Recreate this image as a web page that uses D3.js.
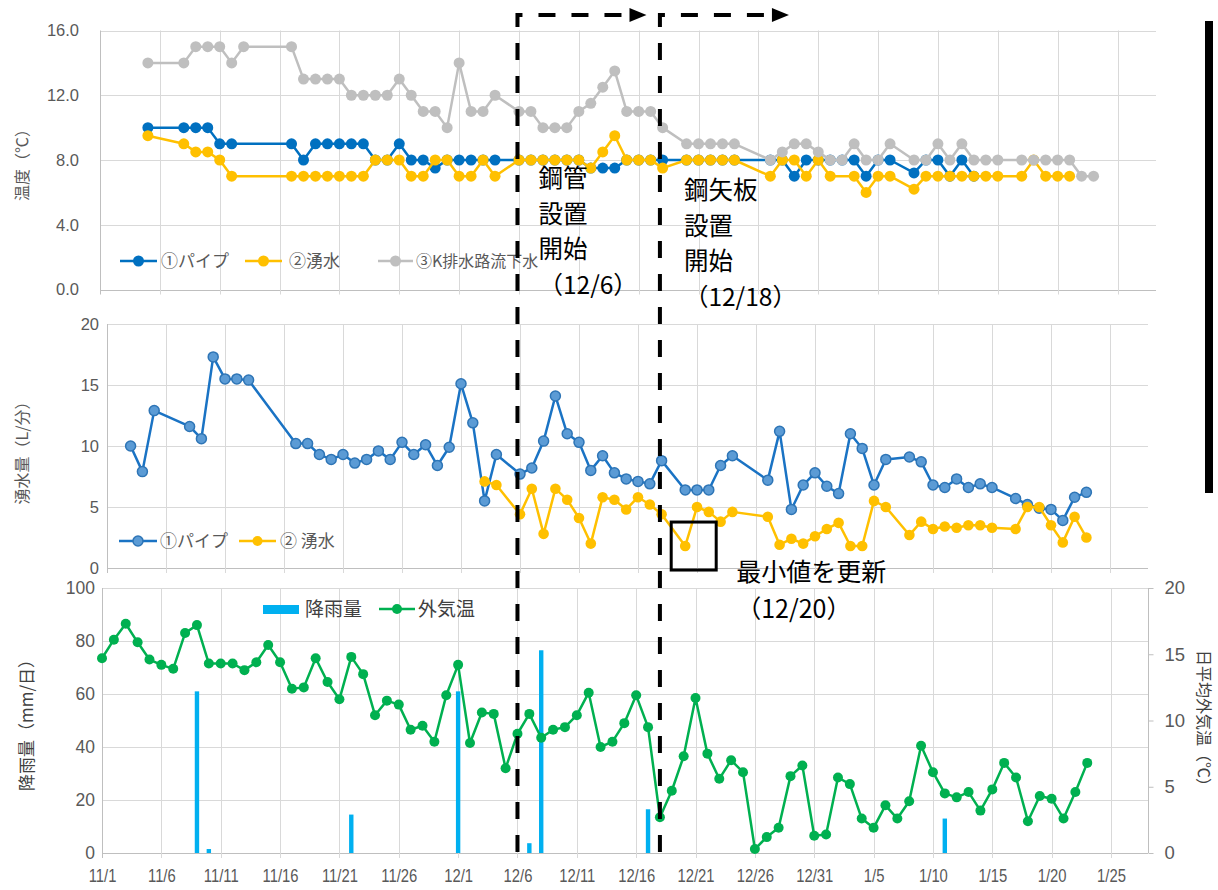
<!DOCTYPE html>
<html lang="ja">
<head>
<meta charset="utf-8">
<title>湧水温度・湧水量・気象の推移</title>
<script src="https://cdn.jsdelivr.net/npm/d3@7/dist/d3.min.js"></script>
<style>
  html, body { margin: 0; background: #fff; }
  svg { display: block; }
  text { font-family: "Noto Sans CJK JP", "Noto Sans", sans-serif; }
  .tick text { font-family: "Liberation Sans", Arial, sans-serif; }
</style>
</head>
<body>
<svg id="chart" width="1218" height="890"></svg>
<script>
// ---------------- data ----------------
// water temperature (°C), measured days
const tempDates = ["11/5","11/8","11/9","11/10","11/11","11/12","11/13",
  "11/17","11/18","11/19","11/20","11/21","11/22","11/23","11/24","11/25","11/26","11/27","11/28","11/29","11/30","12/1","12/2","12/3","12/4",
  "12/6","12/7","12/8","12/9","12/10","12/11","12/12","12/13","12/14","12/15","12/16","12/17","12/18",
  "12/20","12/21","12/22","12/23","12/24",
  "12/27","12/28","12/29","12/30","12/31","1/1","1/2","1/3","1/4","1/5","1/6",
  "1/8","1/9","1/10","1/11","1/12","1/13","1/14","1/15",
  "1/17","1/18","1/19","1/20","1/21","1/22","1/23"];
const pipeTemp = [10,10,10,10,9,9,null,
  9,8,9,9,9,9,9,8,8,9,8,8,7.5,8,8,8,8,8,
  8,8,8,8,8,8,7.5,7.5,7.5,8,8,8,8,
  8,8,8,8,8,
  8,8,7,8,8,8,8,8,7,8,8,
  7.2,8,8,7,8,7,null,null,
  null,null,null,null,null,null,null];
const springTemp = [9.5,9,8.5,8.5,8,7,null,
  7,7,7,7,7,7,7,8,8,8,7,7,8,8,7,7,8,7,
  8,8,8,8,8,8,7.5,8.5,9.5,8,8,8,7.5,
  8,8,8,8,8,
  7,8,8,7,8,7,null,7,6,7,7,
  6.2,7,7,7,7,7,7,7,
  7,8,7,7,7,null,null];
const drainTemp = [14,14,15,15,15,14,15,
  15,13,13,13,13,12,12,12,12,13,12,11,11,10,14,11,11,12,
  11,11,10,10,10,11,11.5,12.5,13.5,11,11,11,10,
  9,9,9,9,9,
  8,8.5,9,9,8.5,8,8,9,8,8,9,
  8,8,9,8,9,8,8,8,
  8,8,8,8,8,7,7];

// spring discharge (L/min)
const flowDates = ["11/3","11/4"].concat(tempDates);
const pipeFlow = [10.0,7.9,12.9,11.6,10.6,17.3,15.5,15.5,15.4,
  10.2,10.2,9.3,8.9,9.3,8.6,8.9,9.6,8.9,10.3,9.3,10.1,8.4,9.9,15.1,11.9,5.5,9.3,
  7.7,8.2,10.4,14.1,11.0,10.3,8.0,9.2,7.8,7.3,7.1,6.9,8.8,
  6.4,6.4,6.4,8.4,9.2,
  7.2,11.2,4.8,6.8,7.8,6.7,6.1,11.0,9.8,6.8,8.9,
  9.1,8.7,6.8,6.6,7.3,6.6,6.9,6.6,
  5.7,5.2,4.9,4.8,3.9,5.8,6.2];
const springFlow = [null,null,null,null,null,null,null,null,null,
  null,null,null,null,null,null,null,null,null,null,null,null,null,null,null,null,7.1,6.8,
  4.4,6.5,2.8,6.5,5.6,4.1,2.0,5.8,5.6,4.8,5.8,5.2,4.4,
  1.8,5.0,4.6,3.8,4.6,
  4.2,1.9,2.4,2.0,2.6,3.2,3.7,1.8,1.8,5.5,5.0,
  2.7,3.8,3.2,3.4,3.3,3.5,3.5,3.3,
  3.2,5.0,5.0,3.5,2.1,4.2,2.5];

// weather: daily mean air temperature (°C) from 11/1 to 1/23, and rainfall (mm/day)
const airStart = "11/1", airEnd = "1/23";
const airTemp = [14.7,16.1,17.3,15.9,14.6,14.2,13.9,16.6,17.2,14.3,
  14.3,14.3,13.8,14.4,15.7,14.4,12.4,12.5,14.7,12.9,
  11.6,14.8,13.5,10.4,11.5,11.2,9.3,9.6,8.4,11.9,
  14.2,8.3,10.6,10.5,6.4,9.0,10.5,8.7,9.3,9.5,
  10.4,12.1,8.0,8.4,9.8,11.9,9.5,2.7,4.7,7.3,
  11.7,7.5,5.6,7.0,6.1,0.3,1.2,1.9,5.8,6.6,
  1.3,1.4,5.7,5.2,2.6,1.9,3.6,2.6,3.9,8.1,
  6.1,4.5,4.2,4.6,3.2,4.8,6.8,5.7,2.4,4.3,
  4.1,2.6,4.6,6.8];
const rainDates = ["11/9","11/10","11/22","12/1","12/7","12/8","12/17","1/11"];
const rainfall = [61,1.5,14.5,61,3.7,76.5,16.5,13];

// axis ticks
const tempTicks = [0,4,8,12,16];
const flowTicks = [0,5,10,15,20];
const rainTicks = [0,20,40,60,80,100];
const airTicks = [0,5,10,15,20];
const firstTick = "11/1", lastTick = "1/25", tickStepDays = 5;

// events
const pipeStart = "12/6", sheetPileStart = "12/18", minFlowDate = "12/20";

// ---------------- helpers ----------------
const md = s => { const [m, d] = s.split("/").map(Number); return new Date(m >= 11 ? 2021 : 2022, m - 1, d); };
const pairs = (dates, values) => dates.map((s, i) => ({ date: md(s), value: values[i] })).filter(p => p.value != null);
const fmtMD = d3.timeFormat("%-m/%-d");
const xTicks = d3.timeDay.range(md(firstTick), d3.timeDay.offset(md(lastTick), 1), tickStepDays);

const C = {
  grid: "#d9d9d9", axis: "#bfbfbf", label: "#595959",
  blue: "#0070c0", blueFill: "#5b9bd5", blueEdge: "#2e75b6",
  yellow: "#ffc000", gray: "#bfbfbf", green: "#00b050", rain: "#00b0f0"
};

const svg = d3.select("#chart");
const crisp = v => Math.round(v) + 0.5;

function frame(p) {
  const g = svg.append("g");
  g.append("g").selectAll("line").data(p.yTicks).join("line")
    .attr("x1", p.left).attr("x2", p.right)
    .attr("y1", d => crisp(p.y(d))).attr("y2", d => crisp(p.y(d)))
    .attr("stroke", d => d === 0 ? C.axis : C.grid).attr("stroke-width", 1);
  g.append("g").selectAll("line").data(xTicks).join("line")
    .attr("x1", d => crisp(p.x(d))).attr("x2", d => crisp(p.x(d)))
    .attr("y1", p.top).attr("y2", p.bottom + 5)
    .attr("stroke", (d, i) => i === 0 ? C.axis : C.grid).attr("stroke-width", 1);
  const ax = g.append("g").attr("transform", `translate(${p.labelX},0)`)
    .call(d3.axisLeft(p.y).tickValues(p.yTicks).tickFormat(p.yFormat).tickSize(0).tickPadding(0));
  ax.attr("font-family", null).attr("font-size", null);
  ax.select(".domain").remove();
  ax.selectAll("text").attr("fill", C.label).style("font-size", p.fontSize + "px");
  return g;
}

function lineSeries(g, x, y, data, color, width) {
  g.append("path").datum(data)
    .attr("fill", "none").attr("stroke", color).attr("stroke-width", width)
    .attr("stroke-linejoin", "round")
    .attr("d", d3.line().x(d => x(d.date)).y(d => y(d.value)));
}
function dots(g, x, y, data, r, fill, stroke, sw) {
  g.append("g").selectAll("circle").data(data).join("circle")
    .attr("cx", d => x(d.date)).attr("cy", d => y(d.value)).attr("r", r)
    .attr("fill", fill).attr("stroke", stroke || "none").attr("stroke-width", sw || 0);
}
function legendItem(g, x1, len, y, color, r, fill, stroke, label, tx, size, textColor) {
  g.append("line").attr("x1", x1).attr("x2", x1 + len).attr("y1", y).attr("y2", y)
    .attr("stroke", color).attr("stroke-width", 2.5);
  g.append("circle").attr("cx", x1 + len / 2).attr("cy", y).attr("r", r)
    .attr("fill", fill).attr("stroke", stroke || "none").attr("stroke-width", stroke ? 1.5 : 0);
  g.append("text").attr("x", tx).attr("y", y).attr("dy", "0.36em")
    .attr("fill", textColor || C.label).style("font-size", size + "px").text(label);
}
function axisTitle(text, x, y, angle, size, color) {
  svg.append("text").attr("transform", `translate(${x},${y}) rotate(${angle})`)
    .attr("text-anchor", "middle").attr("dy", "0.36em")
    .attr("fill", color).style("font-size", size + "px").text(text);
}

// ---------------- panel 1: water temperature ----------------
const tp = { left: 100, right: 1156, top: 30.5, bottom: 289.5 };
tp.x = d3.scaleTime([md(firstTick), md(lastTick)], [tp.left, 1117.5]);
tp.y = d3.scaleLinear([0, 16], [tp.bottom, tp.top]);
const g1 = frame({ ...tp, yTicks: tempTicks, yFormat: d3.format(".1f"), labelX: 79, fontSize: 16.5 });
const pipeT = pairs(tempDates, pipeTemp), springT = pairs(tempDates, springTemp), drainT = pairs(tempDates, drainTemp);
lineSeries(g1, tp.x, tp.y, pipeT, C.blue, 2.5);   dots(g1, tp.x, tp.y, pipeT, 5.5, C.blue);
lineSeries(g1, tp.x, tp.y, springT, C.yellow, 2.5); dots(g1, tp.x, tp.y, springT, 5.5, C.yellow);
lineSeries(g1, tp.x, tp.y, drainT, C.gray, 2.5);  dots(g1, tp.x, tp.y, drainT, 5.5, C.gray);
legendItem(g1, 120, 37, 261, C.blue, 5.5, C.blue, null, "①パイプ", 161, 17);
legendItem(g1, 245, 37, 261, C.yellow, 5.5, C.yellow, null, "②湧水", 289, 17);
legendItem(g1, 378, 35, 261, C.gray, 5.5, C.gray, null, "③K排水路流下水", 416, 16);
axisTitle("温度（℃）", 22, 161, -90, 16, C.label);

// ---------------- panel 2: spring discharge ----------------
const fp = { left: 107, right: 1148, top: 324, bottom: 568 };
fp.x = d3.scaleTime([md(firstTick), md(lastTick)], [fp.left, 1110]);
fp.y = d3.scaleLinear([0, 20], [fp.bottom, fp.top]);
const g2 = frame({ ...fp, yTicks: flowTicks, yFormat: d3.format("d"), labelX: 99, fontSize: 16.5 });
const pipeF = pairs(flowDates, pipeFlow), springF = pairs(flowDates, springFlow);
lineSeries(g2, fp.x, fp.y, pipeF, "#1a73c4", 2.5); dots(g2, fp.x, fp.y, pipeF, 5, C.blueFill, C.blueEdge, 1.5);
lineSeries(g2, fp.x, fp.y, springF, C.yellow, 2.5); dots(g2, fp.x, fp.y, springF, 5.3, C.yellow);
legendItem(g2, 119, 38, 541, "#1a73c4", 5, C.blueFill, C.blueEdge, "①パイプ", 160, 17);
legendItem(g2, 239, 37, 541, C.yellow, 5, C.yellow, null, "② 湧水", 280, 17);
axisTitle("湧水量（L/分）", 22, 449, -90, 16, C.label);

// ---------------- panel 3: rainfall and air temperature ----------------
const wp = { left: 102, right: 1148, top: 588, bottom: 853 };
wp.x = d3.scaleTime([md(firstTick), md(lastTick)], [wp.left, 1111]);
wp.y = d3.scaleLinear([0, 100], [wp.bottom, wp.top]);
wp.y2 = d3.scaleLinear([0, 20], [wp.bottom, wp.top]);
const g3 = frame({ ...wp, yTicks: rainTicks, yFormat: d3.format("d"), labelX: 95, fontSize: 17.5 });
// secondary axis
g3.append("line").attr("x1", crisp(wp.right)).attr("x2", crisp(wp.right))
  .attr("y1", wp.top).attr("y2", wp.bottom).attr("stroke", C.axis);
const ax2 = g3.append("g").attr("transform", `translate(${crisp(wp.right)},0)`)
  .call(d3.axisRight(wp.y2).tickValues(airTicks).tickSize(5).tickPadding(11));
ax2.attr("font-family", null).attr("font-size", null);
ax2.select(".domain").remove();
ax2.selectAll("line").attr("stroke", C.axis);
ax2.selectAll("text").attr("fill", C.label).style("font-size", "18.5px");
// x axis labels
const axx = g3.append("g").attr("transform", `translate(0,${wp.bottom})`)
  .call(d3.axisBottom(wp.x).tickValues(xTicks).tickFormat(fmtMD).tickSize(0).tickPadding(16));
axx.attr("font-family", null).attr("font-size", null);
axx.select(".domain").remove();
axx.selectAll("text").attr("fill", C.label).style("font-size", "19px").attr("transform", "scale(0.78,1)");

const rain = pairs(rainDates, rainfall);
g3.append("g").selectAll("rect").data(rain).join("rect")
  .attr("x", d => wp.x(d.date) - 2.2).attr("width", 4.4)
  .attr("y", d => wp.y(d.value)).attr("height", d => wp.y(0) - wp.y(d.value))
  .attr("fill", C.rain);
const air = airTemp.map((v, i) => ({ date: d3.timeDay.offset(md(airStart), i), value: v }))
  .filter(p => p.date <= md(airEnd));
lineSeries(g3, wp.x, wp.y2, air, C.green, 2.5); dots(g3, wp.x, wp.y2, air, 5, C.green);
// legend
g3.append("rect").attr("x", 263).attr("y", 605).attr("width", 36).attr("height", 9).attr("fill", C.rain);
g3.append("text").attr("x", 305).attr("y", 609).attr("dy", "0.36em").attr("fill", "#404040")
  .style("font-size", "19px").text("降雨量");
legendItem(g3, 379, 36, 609, C.green, 5, C.green, null, "外気温", 418, 19, "#404040");
axisTitle("降雨量（mm/日）", 27, 721, -90, 17, "#404040");
axisTitle("日平均外気温（℃）", 1204, 722, 90, 16, "#404040");

// ---------------- construction periods ----------------
const ann = svg.append("g");
[pipeStart, sheetPileStart].forEach(s => {
  const xv = wp.x(md(s));
  ann.append("path").attr("d", `M${xv},852 V15 H${xv + 113}`)
    .attr("fill", "none").attr("stroke", "#000").attr("stroke-width", 4)
    .attr("stroke-dasharray", "17,16");
  ann.append("path").attr("d", `M${xv + 112},8 L${xv + 129},15 L${xv + 112},22 Z`).attr("fill", "#000");
});
// multi-line notes
function block(lines, x, y0, dy, size) {
  const t = ann.append("text").attr("x", x).attr("y", y0)
    .attr("fill", "#000").style("font-size", size + "px");
  lines.forEach((s, i) => t.append("tspan").attr("x", x).attr("dy", i ? dy : 0).text(s));
}
const xp = wp.x(md(pipeStart)), xs = wp.x(md(sheetPileStart));
block(["鋼管", "設置", "開始", `（${pipeStart}）`], xp + 21, 187, 35.5, 24.5);
block(["鋼矢板", "設置", "開始", `（${sheetPileStart}）`], xs + 24, 199, 35.5, 24.5);

// minimum discharge marker
const minPt = springF.find(p => fmtMD(p.date) === minFlowDate);
const mx = fp.x(minPt.date), my = fp.y(minPt.value);
ann.append("rect").attr("x", mx - 14).attr("y", my - 24).attr("width", 45).attr("height", 48)
  .attr("fill", "none").attr("stroke", "#000").attr("stroke-width", 3);
block(["最小値を更新", `（${minFlowDate}）`], mx + 51, 581, 36.5, 25);

// right-hand bar
ann.append("rect").attr("x", 1205).attr("y", 21).attr("width", 8).attr("height", 472).attr("fill", "#000");
</script>
</body>
</html>
